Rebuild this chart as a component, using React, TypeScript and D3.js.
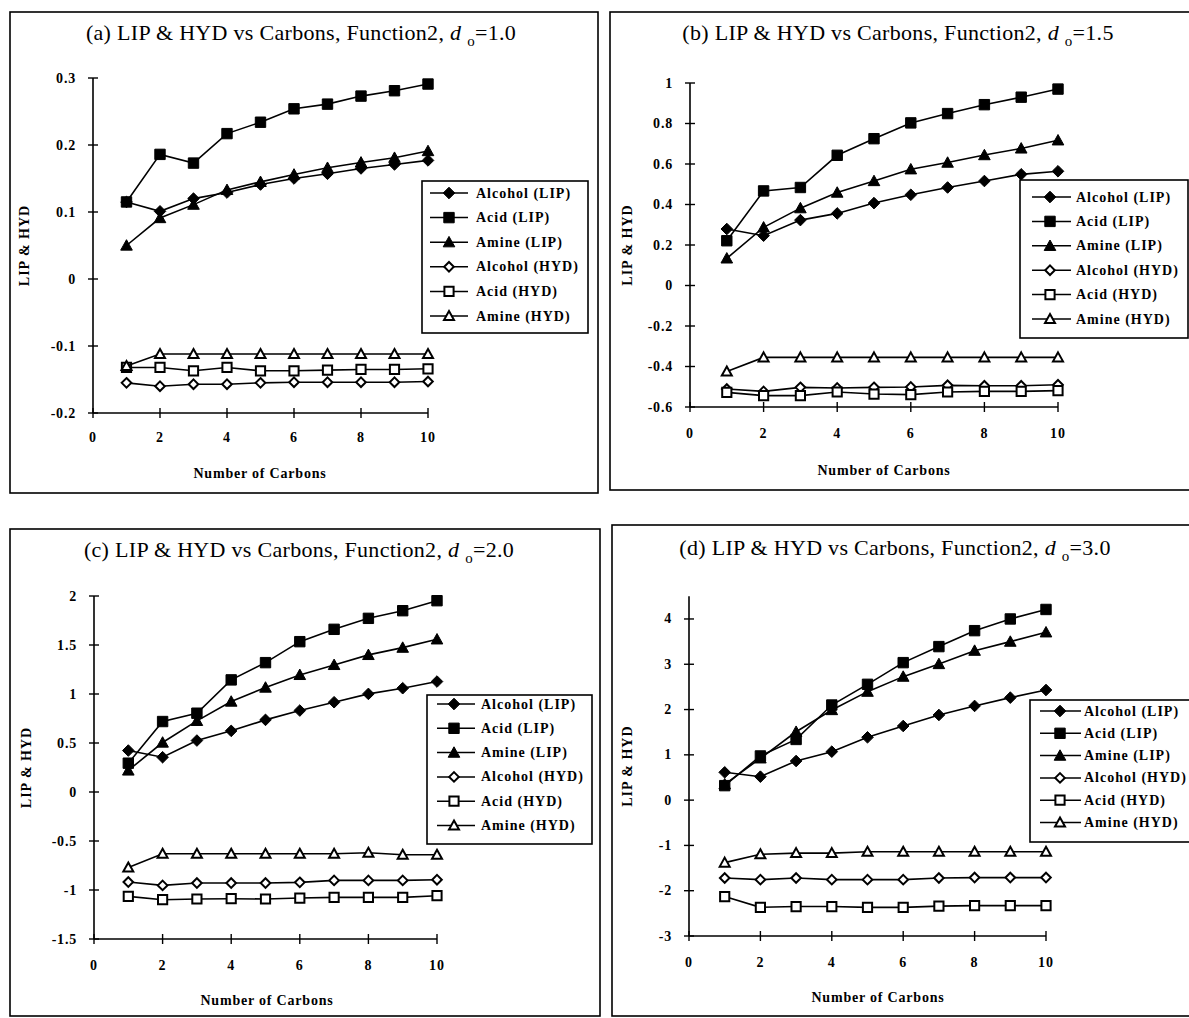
import React from "react";
import * as d3 from "d3";

const carbons = [1, 2, 3, 4, 5, 6, 7, 8, 9, 10];
const seriesNames = ["Alcohol (LIP)", "Acid (LIP)", "Amine (LIP)", "Alcohol (HYD)", "Acid (HYD)", "Amine (HYD)"];
const seriesShapes = ["diamond", "square", "triangle", "diamond", "square", "triangle"];
const seriesFilled = [true, true, true, false, false, false];
const xTickValues = [0, 2, 4, 6, 8, 10];

// Panel (a) d_o = 1.0
const aAlcoholLIP = [0.115, 0.101, 0.120, 0.129, 0.141, 0.150, 0.157, 0.165, 0.171, 0.177];
const aAcidLIP = [0.115, 0.186, 0.173, 0.217, 0.234, 0.254, 0.261, 0.273, 0.281, 0.291];
const aAmineLIP = [0.050, 0.091, 0.111, 0.133, 0.145, 0.156, 0.166, 0.174, 0.181, 0.191];
const aAlcoholHYD = [-0.155, -0.160, -0.157, -0.157, -0.155, -0.154, -0.154, -0.154, -0.154, -0.153];
const aAcidHYD = [-0.132, -0.132, -0.137, -0.132, -0.137, -0.137, -0.136, -0.135, -0.135, -0.134];
const aAmineHYD = [-0.130, -0.112, -0.112, -0.112, -0.112, -0.112, -0.112, -0.112, -0.112, -0.112];
const aYTicks = [-0.2, -0.1, 0, 0.1, 0.2, 0.3];

// Panel (b) d_o = 1.5
const bAlcoholLIP = [0.279, 0.246, 0.323, 0.356, 0.407, 0.448, 0.484, 0.516, 0.549, 0.564];
const bAcidLIP = [0.221, 0.467, 0.484, 0.643, 0.725, 0.803, 0.849, 0.893, 0.930, 0.970];
const bAmineLIP = [0.134, 0.287, 0.382, 0.459, 0.516, 0.574, 0.607, 0.644, 0.677, 0.717];
const bAlcoholHYD = [-0.511, -0.523, -0.503, -0.506, -0.503, -0.501, -0.493, -0.495, -0.495, -0.490];
const bAcidHYD = [-0.528, -0.544, -0.544, -0.526, -0.536, -0.539, -0.526, -0.523, -0.523, -0.519];
const bAmineHYD = [-0.425, -0.355, -0.355, -0.355, -0.355, -0.355, -0.355, -0.355, -0.355, -0.355];
const bYTicks = [-0.6, -0.4, -0.2, 0, 0.2, 0.4, 0.6, 0.8, 1];

// Panel (c) d_o = 2.0
const cAlcoholLIP = [0.423, 0.355, 0.525, 0.624, 0.736, 0.831, 0.916, 1.001, 1.059, 1.127];
const cAcidLIP = [0.294, 0.719, 0.804, 1.144, 1.320, 1.534, 1.660, 1.772, 1.850, 1.952];
const cAmineLIP = [0.220, 0.505, 0.726, 0.923, 1.066, 1.195, 1.297, 1.399, 1.473, 1.558];
const cAlcoholHYD = [-0.919, -0.953, -0.929, -0.929, -0.929, -0.922, -0.902, -0.902, -0.902, -0.895];
const cAcidHYD = [-1.065, -1.099, -1.092, -1.089, -1.092, -1.082, -1.075, -1.075, -1.075, -1.058];
const cAmineHYD = [-0.770, -0.630, -0.630, -0.630, -0.630, -0.630, -0.630, -0.620, -0.640, -0.640];
const cYTicks = [-1.5, -1, -0.5, 0, 0.5, 1, 1.5, 2];

// Panel (d) d_o = 3.0
const dAlcoholLIP = [0.614, 0.518, 0.864, 1.070, 1.387, 1.637, 1.880, 2.080, 2.263, 2.432];
const dAcidLIP = [0.320, 0.975, 1.340, 2.100, 2.557, 3.036, 3.390, 3.742, 4.000, 4.210];
const dAmineLIP = [0.350, 0.923, 1.510, 1.990, 2.395, 2.727, 3.006, 3.300, 3.500, 3.706];
const dAlcoholHYD = [-1.720, -1.756, -1.720, -1.756, -1.756, -1.756, -1.720, -1.710, -1.710, -1.710];
const dAcidHYD = [-2.130, -2.367, -2.350, -2.350, -2.367, -2.367, -2.340, -2.330, -2.330, -2.330];
const dAmineHYD = [-1.380, -1.197, -1.170, -1.170, -1.140, -1.140, -1.140, -1.140, -1.140, -1.140];
const dYTicks = [-3, -2, -1, 0, 1, 2, 3, 4];

const FONT = "'Liberation Serif', 'Times New Roman', serif";

function markerPath(shape: string, filled: boolean): string {
  if (shape === "diamond") {
    const r = filled ? 5.8 : 4.8;
    return `M0,${-r}L${r},0L0,${r}L${-r},0Z`;
  }
  if (shape === "square") {
    const h = filled ? 5.2 : 4.6;
    return `M${-h},${-h}H${h}V${h}H${-h}Z`;
  }
  const w = filled ? 5.8 : 5;
  const t = filled ? 5.8 : 5;
  return `M0,${-t}L${w},${t * 0.8}L${-w},${t * 0.8}Z`;
}

function Marker({ x, y, i }: { x: number; y: number; i: number }) {
  const filled = seriesFilled[i];
  return (
    <path
      d={markerPath(seriesShapes[i], filled)}
      transform={`translate(${x},${y})`}
      fill={filled ? "#000" : "#fff"}
      stroke="#000"
      strokeWidth={filled ? 1 : 2}
    />
  );
}

type PanelCfg = {
  frame: [number, number, number, number];
  titleLabel: string;
  titleValue: string;
  titleX: number;
  titleY: number;
  xRange: [number, number];
  yDomain: [number, number];
  yRange: [number, number];
  yTicks: number[];
  series: number[][];
  yLabelX: number;
  xLabelY: number;
  xLabelX: number;
  xTickLabelY: number;
  legend: { x: number; y: number; w: number; h: number; row0: number; step: number; l0: number; l1: number; mx: number; tx: number };
};

function Panel({ cfg }: { cfg: PanelCfg }) {
  const x = d3.scaleLinear().domain([0, 10]).range(cfg.xRange);
  const y = d3.scaleLinear().domain(cfg.yDomain).range(cfg.yRange);
  const line = d3
    .line<number>()
    .x((_, k) => x(carbons[k]))
    .y((v) => y(v));
  const [fx, fy, fw, fh] = cfg.frame;
  const axX = x(0);
  const axBottom = y(cfg.yDomain[0]);
  const axTop = y(cfg.yDomain[1]);
  const yMid = (axTop + axBottom) / 2;
  const fmt = (v: number) => {
    const s = d3.format("~g")(Math.round(v * 100) / 100);
    return s.replace("−", "-");
  };
  const L = cfg.legend;
  return (
    <g>
      <rect x={fx} y={fy} width={fw} height={fh} fill="none" stroke="#000" strokeWidth={1.6} />
      <text x={cfg.titleX} y={cfg.titleY} textAnchor="middle" fontFamily={FONT} fontSize={22} letterSpacing={0.3} fill="#000">
        <tspan>{cfg.titleLabel}  LIP &amp; HYD vs Carbons, Function2, </tspan>
        <tspan fontStyle="italic">d</tspan>
        <tspan> </tspan>
        <tspan dy={6} fontSize={15}>o</tspan>
        <tspan dy={-6}>{"=" + cfg.titleValue}</tspan>
      </text>
      {/* axes */}
      <line x1={axX} x2={axX} y1={axTop} y2={axBottom} stroke="#000" strokeWidth={1.6} />
      <line x1={axX} x2={x(10)} y1={axBottom} y2={axBottom} stroke="#000" strokeWidth={1.6} />
      {cfg.yTicks.map((t) => (
        <g key={"yt" + t}>
          <line x1={axX - 5} x2={axX + 5} y1={y(t)} y2={y(t)} stroke="#000" strokeWidth={1.4} />
          <text x={axX - 17} y={y(t) + 4.5} textAnchor="end" fontFamily={FONT} fontWeight="bold" fontSize={14} letterSpacing={0.8} fill="#000">
            {fmt(t)}
          </text>
        </g>
      ))}
      {xTickValues.map((t) => (
        <g key={"xt" + t}>
          <line x1={x(t)} x2={x(t)} y1={axBottom - 5} y2={axBottom + 5} stroke="#000" strokeWidth={1.4} />
          <text x={x(t)} y={cfg.xTickLabelY} textAnchor="middle" fontFamily={FONT} fontWeight="bold" fontSize={14} letterSpacing={1} fill="#000">
            {String(t)}
          </text>
        </g>
      ))}
      <text
        transform={`translate(${cfg.yLabelX},${yMid}) rotate(-90)`}
        textAnchor="middle"
        fontFamily={FONT}
        fontWeight="bold"
        fontSize={14}
        letterSpacing={1}
        fill="#000"
      >
        LIP &amp; HYD
      </text>
      <text x={cfg.xLabelX} y={cfg.xLabelY} textAnchor="middle" fontFamily={FONT} fontWeight="bold" fontSize={14} letterSpacing={0.8} fill="#000">
        Number of Carbons
      </text>
      {/* series */}
      {cfg.series.map((vals, i) => (
        <g key={"s" + i}>
          <path d={line(vals) || ""} fill="none" stroke="#000" strokeWidth={1.6} />
          {vals.map((v, k) => (
            <Marker key={k} x={x(carbons[k])} y={y(v)} i={i} />
          ))}
        </g>
      ))}
      {/* legend */}
      <rect x={L.x} y={L.y} width={L.w} height={L.h} fill="#fff" stroke="#000" strokeWidth={1.6} />
      {seriesNames.map((name, i) => {
        const ry = L.row0 + i * L.step;
        return (
          <g key={"lg" + i}>
            <line x1={L.l0} x2={L.l1} y1={ry} y2={ry} stroke="#000" strokeWidth={1.5} />
            <Marker x={L.mx} y={ry} i={i} />
            <text x={L.tx} y={ry + 4.5} fontFamily={FONT} fontWeight="bold" fontSize={14} letterSpacing={1} fill="#000">
              {name}
            </text>
          </g>
        );
      })}
    </g>
  );
}

const panels: PanelCfg[] = [
  {
    frame: [10, 12, 588, 481],
    titleLabel: "(a)",
    titleValue: "1.0",
    titleX: 301,
    titleY: 40,
    xRange: [93, 428],
    yDomain: [-0.2, 0.3],
    yRange: [413, 78],
    yTicks: aYTicks,
    series: [aAlcoholLIP, aAcidLIP, aAmineLIP, aAlcoholHYD, aAcidHYD, aAmineHYD],
    yLabelX: 29,
    xLabelY: 478,
    xLabelX: 260,
    xTickLabelY: 442,
    legend: { x: 422, y: 181, w: 166, h: 152, row0: 193, step: 24.6, l0: 430, l1: 468, mx: 449, tx: 476 },
  },
  {
    frame: [610, 12, 600, 478],
    titleLabel: "(b)",
    titleValue: "1.5",
    titleX: 898,
    titleY: 40,
    xRange: [690, 1058],
    yDomain: [-0.6, 1],
    yRange: [407, 83],
    yTicks: bYTicks,
    series: [bAlcoholLIP, bAcidLIP, bAmineLIP, bAlcoholHYD, bAcidHYD, bAmineHYD],
    yLabelX: 632,
    xLabelY: 475,
    xLabelX: 884,
    xTickLabelY: 438,
    legend: { x: 1020, y: 180, w: 168, h: 158, row0: 197, step: 24.4, l0: 1032, l1: 1071, mx: 1050, tx: 1076 },
  },
  {
    frame: [10, 529, 590, 487],
    titleLabel: "(c)",
    titleValue: "2.0",
    titleX: 299,
    titleY: 557,
    xRange: [94, 437],
    yDomain: [-1.5, 2],
    yRange: [939, 596],
    yTicks: cYTicks,
    series: [cAlcoholLIP, cAcidLIP, cAmineLIP, cAlcoholHYD, cAcidHYD, cAmineHYD],
    yLabelX: 31,
    xLabelY: 1005,
    xLabelX: 267,
    xTickLabelY: 970,
    legend: { x: 427, y: 695, w: 165, h: 149, row0: 704, step: 24.3, l0: 437, l1: 475, mx: 454, tx: 481 },
  },
  {
    frame: [612, 525, 600, 491],
    titleLabel: "(d)",
    titleValue: "3.0",
    titleX: 895,
    titleY: 555,
    xRange: [689, 1046],
    yDomain: [-3, 4.5],
    yRange: [936, 936 - 7.5 * 45.29],
    yTicks: dYTicks,
    series: [dAlcoholLIP, dAcidLIP, dAmineLIP, dAlcoholHYD, dAcidHYD, dAmineHYD],
    yLabelX: 632,
    xLabelY: 1002,
    xLabelX: 878,
    xTickLabelY: 967,
    legend: { x: 1030, y: 700, w: 170, h: 142, row0: 711, step: 22.3, l0: 1040, l1: 1081, mx: 1060, tx: 1084 },
  },
];

export default function App() {
  return (
    <svg
      width={1189}
      height={1018}
      viewBox="0 0 1189 1018"
      style={{ position: "absolute", left: 0, top: 0, background: "#fff" }}
    >
      <rect x={0} y={0} width={1189} height={1018} fill="#fff" />
      {panels.map((p, i) => (
        <Panel key={i} cfg={p} />
      ))}
    </svg>
  );
}
